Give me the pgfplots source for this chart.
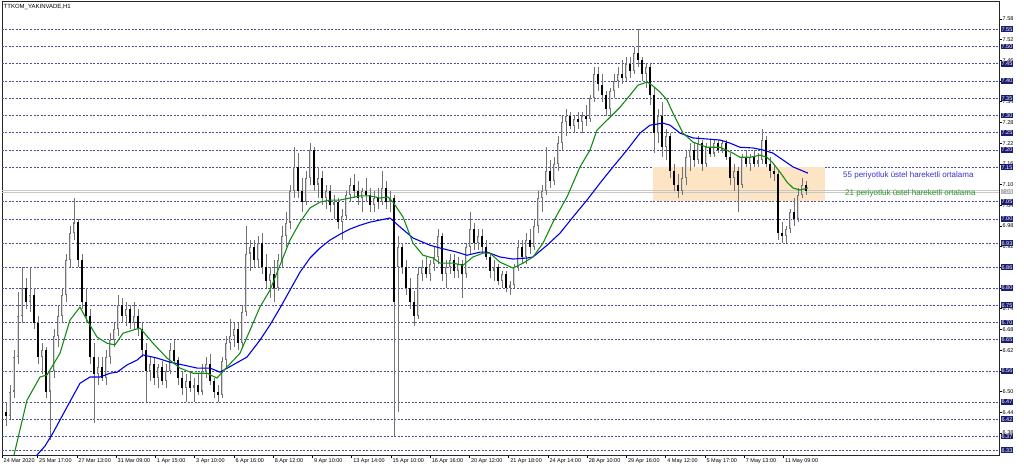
\documentclass[border=0pt]{standalone}
\usepackage{fontspec}
\setmainfont{Liberation Sans}
\usepackage{pgfplots}
\usepackage{pgfplotstable}
\pgfplotsset{compat=1.18}
\definecolor{gridc}{RGB}{80,80,150}
\definecolor{navyb}{RGB}{28,28,112}
\definecolor{emagreen}{RGB}{20,140,20}
\definecolor{emablue}{RGB}{0,0,230}
\definecolor{txtgreen}{RGB}{40,150,40}
\definecolor{txtblue}{RGB}{50,50,210}
\definecolor{peach}{RGB}{253,228,196}
\definecolor{wick}{RGB}{115,115,115}
\definecolor{bullfill}{RGB}{215,215,215}

\pgfplotstableread{
x o h l c
6 6.44 6.47 6.40 6.43
10 6.43 6.52 6.42 6.50
14 6.50 6.62 6.48 6.60
18 6.60 6.79 6.58 6.72
22 6.72 6.86 6.70 6.80
26 6.80 6.83 6.74 6.76
30 6.76 6.86 6.73 6.78
34 6.78 6.80 6.68 6.70
38 6.70 6.72 6.58 6.60
42 6.60 6.64 6.55 6.62
46 6.62 6.63 6.48 6.50
50 6.50 6.55 6.36 6.56
54 6.56 6.68 6.54 6.66
58 6.66 6.75 6.63 6.72
62 6.72 6.80 6.70 6.78
66 6.78 6.90 6.76 6.88
70 6.88 6.98 6.86 6.96
74 6.96 7.06 6.94 6.99
78 6.99 7.00 6.86 6.88
82 6.88 6.90 6.74 6.76
86 6.76 6.80 6.70 6.72
90 6.72 6.74 6.58 6.60
94 6.60 6.64 6.41 6.55
98 6.55 6.60 6.52 6.57
102 6.57 6.60 6.53 6.54
106 6.54 6.62 6.52 6.60
110 6.60 6.67 6.58 6.65
114 6.65 6.70 6.63 6.68
118 6.68 6.78 6.66 6.75
122 6.75 6.77 6.70 6.72
126 6.72 6.76 6.69 6.74
130 6.74 6.75 6.68 6.70
134 6.70 6.76 6.68 6.72
138 6.72 6.74 6.66 6.68
142 6.68 6.70 6.60 6.62
146 6.62 6.64 6.47 6.56
150 6.56 6.60 6.53 6.58
154 6.58 6.60 6.52 6.54
158 6.54 6.58 6.51 6.57
162 6.57 6.59 6.52 6.53
166 6.53 6.58 6.51 6.56
170 6.56 6.64 6.55 6.62
174 6.62 6.65 6.58 6.59
178 6.59 6.60 6.52 6.54
182 6.54 6.56 6.49 6.51
186 6.51 6.55 6.47 6.53
190 6.53 6.56 6.50 6.51
194 6.51 6.54 6.47 6.52
198 6.52 6.55 6.49 6.50
202 6.50 6.58 6.49 6.56
206 6.56 6.60 6.54 6.58
210 6.58 6.61 6.52 6.53
214 6.53 6.54 6.48 6.50
218 6.50 6.52 6.47 6.49
222 6.49 6.60 6.48 6.59
226 6.59 6.66 6.57 6.64
230 6.64 6.71 6.62 6.66
234 6.66 6.70 6.63 6.68
238 6.68 6.70 6.62 6.64
242 6.64 6.75 6.63 6.73
246 6.73 6.98 6.72 6.90
250 6.90 6.94 6.85 6.92
254 6.92 6.94 6.86 6.88
258 6.88 6.95 6.86 6.93
262 6.93 6.96 6.84 6.86
266 6.86 6.90 6.80 6.82
270 6.82 6.86 6.77 6.84
274 6.84 6.88 6.76 6.80
278 6.80 6.90 6.79 6.88
282 6.88 6.98 6.86 6.95
286 6.95 7.02 6.92 6.99
290 6.99 7.10 6.97 7.08
294 7.08 7.21 7.06 7.15
298 7.15 7.19 7.06 7.08
302 7.08 7.12 7.02 7.05
306 7.05 7.14 7.04 7.12
310 7.12 7.22 7.10 7.20
314 7.20 7.21 7.08 7.10
318 7.10 7.15 7.06 7.12
322 7.12 7.14 7.04 7.06
326 7.06 7.10 7.03 7.08
330 7.08 7.10 7.02 7.04
334 7.04 7.07 7.00 7.05
338 7.05 7.06 6.97 6.99
342 6.99 7.03 6.94 7.01
346 7.01 7.08 7.00 7.07
350 7.07 7.12 7.05 7.10
354 7.10 7.13 7.06 7.08
358 7.08 7.11 7.04 7.06
362 7.06 7.09 7.02 7.08
366 7.08 7.12 7.05 7.07
370 7.07 7.09 7.02 7.04
374 7.04 7.08 7.02 7.06
378 7.06 7.09 7.03 7.05
382 7.05 7.14 7.04 7.09
386 7.09 7.11 7.03 7.05
390 7.05 7.08 7.02 7.06
394 7.06 7.07 6.37 6.76
398 6.86 6.95 6.44 6.92
402 6.92 6.93 6.84 6.86
406 6.86 6.88 6.78 6.80
410 6.80 6.83 6.74 6.76
414 6.76 6.79 6.69 6.72
418 6.72 6.86 6.71 6.84
422 6.84 6.88 6.82 6.86
426 6.86 6.89 6.83 6.84
430 6.84 6.88 6.82 6.87
434 6.87 6.92 6.85 6.89
438 6.89 6.97 6.87 6.95
442 6.95 6.96 6.82 6.84
446 6.84 6.88 6.80 6.86
450 6.86 6.90 6.84 6.88
454 6.88 6.90 6.83 6.85
458 6.85 6.89 6.83 6.87
462 6.87 6.88 6.77 6.84
466 6.84 6.93 6.83 6.92
470 6.92 7.02 6.90 6.97
474 6.97 6.99 6.91 6.93
478 6.93 6.97 6.91 6.95
482 6.95 6.97 6.90 6.92
486 6.92 6.94 6.88 6.89
490 6.89 6.90 6.83 6.85
494 6.85 6.88 6.82 6.86
498 6.86 6.87 6.81 6.82
502 6.82 6.85 6.80 6.84
506 6.84 6.85 6.79 6.80
510 6.80 6.82 6.78 6.81
514 6.81 6.87 6.80 6.86
518 6.86 6.94 6.85 6.92
522 6.92 6.94 6.87 6.89
526 6.89 6.96 6.87 6.94
530 6.94 6.97 6.90 6.92
534 6.92 7.00 6.91 6.98
538 6.98 7.08 6.96 7.06
542 7.06 7.10 7.02 7.08
546 7.08 7.21 7.07 7.14
550 7.14 7.17 7.09 7.11
554 7.11 7.18 7.10 7.16
558 7.16 7.24 7.14 7.22
562 7.22 7.30 7.20 7.28
566 7.28 7.32 7.24 7.30
570 7.30 7.31 7.26 7.27
574 7.27 7.30 7.25 7.29
578 7.29 7.31 7.26 7.28
582 7.28 7.31 7.25 7.30
586 7.30 7.33 7.27 7.29
590 7.29 7.36 7.28 7.35
594 7.35 7.44 7.34 7.42
598 7.42 7.44 7.37 7.39
602 7.39 7.42 7.34 7.36
606 7.36 7.37 7.30 7.32
610 7.32 7.38 7.30 7.37
614 7.37 7.42 7.35 7.40
618 7.40 7.44 7.38 7.42
622 7.42 7.46 7.39 7.41
626 7.41 7.47 7.40 7.45
630 7.45 7.47 7.41 7.43
634 7.43 7.50 7.42 7.48
638 7.48 7.55 7.44 7.46
642 7.46 7.47 7.40 7.42
646 7.42 7.45 7.38 7.44
650 7.44 7.45 7.33 7.36
654 7.36 7.38 7.19 7.25
658 7.25 7.32 7.22 7.30
662 7.30 7.34 7.18 7.21
666 7.21 7.26 7.17 7.24
670 7.24 7.25 7.12 7.14
674 7.14 7.16 7.08 7.10
678 7.10 7.13 7.06 7.08
682 7.08 7.15 7.07 7.12
686 7.12 7.20 7.10 7.18
690 7.18 7.22 7.14 7.20
694 7.20 7.22 7.15 7.17
698 7.17 7.24 7.16 7.22
702 7.22 7.23 7.14 7.16
706 7.16 7.22 7.15 7.21
710 7.21 7.23 7.18 7.19
714 7.19 7.23 7.18 7.22
718 7.22 7.23 7.19 7.20
722 7.20 7.23 7.19 7.22
726 7.22 7.23 7.17 7.18
730 7.18 7.19 7.10 7.12
734 7.12 7.16 7.08 7.14
738 7.14 7.15 7.02 7.10
742 7.10 7.19 7.09 7.18
746 7.18 7.20 7.15 7.16
750 7.16 7.19 7.14 7.18
754 7.18 7.20 7.15 7.16
758 7.16 7.19 7.15 7.17
762 7.17 7.26 7.16 7.23
766 7.23 7.24 7.15 7.16
770 7.16 7.18 7.12 7.14
774 7.14 7.16 7.11 7.13
778 7.13 7.14 6.94 6.96
782 6.96 6.99 6.93 6.95
786 6.95 6.98 6.93 6.97
790 6.97 7.03 6.96 7.02
794 7.02 7.06 6.98 7.00
798 7.00 7.09 6.99 7.07
802 7.07 7.12 7.06 7.10
806 7.10 7.11 7.07 7.08
}\candles

\begin{document}
\begin{tikzpicture}
\useasboundingbox (0,0) rectangle (1024pt,468pt);
\begin{axis}[
  at={(2pt,13pt)}, anchor=south west,
  scale only axis, width=997pt, height=454pt,
  xmin=2, xmax=999, ymin=6.316, ymax=7.632,
  clip=false,
  axis line style={black!85, line width=0.8pt},
  tick align=outside,
  xtick pos=left, ytick pos=right, yticklabel pos=right,
  major tick length=3pt,
  tick style={black, line width=0.5pt},
  xtick={2,37.50,76.76,116.02,155.28,194.54,233.80,273.06,312.32,351.58,390.84,430.10,469.36,508.62,547.88,587.14,626.40,665.66,704.92,744.18,783.44},
  xticklabels={24 Mar 2020,25 Mar 17:00,27 Mar 13:00,31 Mar 09:00,1 Apr 15:00,3 Apr 10:00,6 Apr 16:00,8 Apr 12:00,9 Apr 10:00,13 Apr 14:00,15 Apr 10:00,16 Apr 16:00,20 Apr 12:00,21 Apr 18:00,24 Apr 14:00,28 Apr 10:00,29 Apr 16:00,4 May 12:00,5 May 17:00,7 May 13:00,11 May 09:00},
  xticklabel style={font=\fontsize{5.5}{6}\selectfont, anchor=north west, inner sep=0.5pt, xshift=1pt},
  ytick={6.38,6.44,6.50,6.56,6.62,6.68,6.74,6.80,6.86,6.92,6.98,7.04,7.10,7.16,7.22,7.28,7.34,7.40,7.46,7.52,7.58},
  scaled y ticks=false,
  yticklabel style={font=\fontsize{5.5}{6}\selectfont, anchor=west, inner sep=0.5pt,
    /pgf/number format/fixed, /pgf/number format/fixed zerofill,
    /pgf/number format/precision=2, /pgf/number format/assume math mode=true},
  extra y ticks={6.33,6.37,6.42,6.47,6.56,6.65,6.70,6.75,6.80,6.86,6.93,7.00,7.05,7.15,7.20,7.25,7.30,7.35,7.40,7.45,7.50,7.55},
  extra y tick style={major tick length=0pt, grid=major,
    major grid style={gridc, dash pattern=on 2pt off 1.5pt, line width=0.6pt},
    yticklabel style={fill=navyb, text=white, inner sep=0.9pt, xshift=1.5pt}},
  candle/.style={draw=none, mark=none, forget plot, error bars/.cd, y dir=both, y explicit, error mark=none},
]
% zone
\addplot[fill=peach, draw=none, forget plot] coordinates {(653,7.053) (825,7.053) (825,7.151) (653,7.151)} -- cycle;
% bid/ask lines
\addplot[black!22, line width=0.8pt, forget plot] coordinates {(2,7.084) (999,7.084)};
\addplot[black!22, line width=0.8pt, forget plot] coordinates {(2,7.076) (999,7.076)};
% wicks
\addplot[candle, error bar style={draw=wick, line width=0.8pt, solid, line cap=butt}]
  table[x=x, y expr={(\thisrow{h}+\thisrow{l})/2}, y error expr={(\thisrow{h}-\thisrow{l})/2}] {\candles};
% bull bodies
\addplot[restrict expr to domain={\thisrow{c}-\thisrow{o}}{0.001:10}, candle,
  error bar style={draw=wick, line width=2.2pt, solid, line cap=butt}]
  table[x=x, y expr={(\thisrow{o}+\thisrow{c})/2}, y error expr={(\thisrow{c}-\thisrow{o})/2}] {\candles};
\addplot[restrict expr to domain={\thisrow{c}-\thisrow{o}}{0.0105:10}, candle,
  error bar style={draw=bullfill, line width=1.0pt, solid, line cap=butt}]
  table[x=x, y expr={(\thisrow{o}+\thisrow{c})/2}, y error expr={(\thisrow{c}-\thisrow{o}-0.006)/2}] {\candles};
% bear bodies
\addplot[restrict expr to domain={\thisrow{o}-\thisrow{c}}{0.001:10}, candle,
  error bar style={draw=black, line width=2.2pt, solid, line cap=butt}]
  table[x=x, y expr={(\thisrow{o}+\thisrow{c})/2}, y error expr={(\thisrow{o}-\thisrow{c})/2}] {\candles};
% EMA 55
\addplot[emablue, line width=1.1pt, line join=round, mark=none] coordinates {
(37,6.316)(45,6.342)(53,6.380)(67,6.455)(80,6.524)(90,6.542)(100,6.542)(110,6.553)(117,6.556)(127,6.577)(137,6.591)(143,6.606)(157,6.597)(170,6.585)(183,6.577)(197,6.568)(210,6.568)(220,6.556)(233,6.577)(247,6.600)(260,6.649)(270,6.693)(280,6.742)(290,6.794)(300,6.846)(310,6.887)(320,6.916)(330,6.939)(340,6.956)(350,6.971)(360,6.982)(370,6.991)(380,6.997)(390,7.003)(400,6.977)(413,6.945)(430,6.924)(440,6.916)(457,6.904)(467,6.895)(480,6.904)(487,6.904)(500,6.890)(513,6.884)(527,6.887)(533,6.890)(547,6.924)(560,6.959)(573,7.006)(587,7.055)(600,7.104)(613,7.151)(627,7.200)(640,7.249)(650,7.272)(663,7.278)(670,7.272)(680,7.249)(693,7.235)(707,7.232)(720,7.229)(730,7.220)(740,7.208)(753,7.206)(763,7.200)(773,7.191)(783,7.171)(793,7.151)(803,7.139)(808,7.133)};
% EMA 21
\addplot[emagreen, line width=1.1pt, line join=round, mark=none] coordinates {
(14,6.316)(18,6.365)(27,6.475)(40,6.542)(47,6.548)(60,6.611)(70,6.707)(80,6.745)(87,6.707)(97,6.658)(107,6.640)(115,6.635)(123,6.669)(133,6.678)(140,6.684)(153,6.640)(167,6.597)(180,6.568)(193,6.553)(207,6.553)(217,6.539)(227,6.571)(240,6.611)(250,6.678)(260,6.745)(270,6.794)(280,6.866)(290,6.939)(300,6.991)(310,7.032)(320,7.049)(330,7.055)(340,7.055)(350,7.061)(360,7.067)(370,7.067)(380,7.061)(388,7.064)(393,7.049)(403,7.006)(413,6.930)(423,6.895)(433,6.887)(440,6.872)(453,6.872)(463,6.866)(473,6.890)(483,6.901)(490,6.901)(500,6.875)(513,6.858)(523,6.872)(533,6.890)(543,6.930)(553,6.991)(567,7.064)(580,7.151)(590,7.200)(597,7.258)(610,7.295)(620,7.324)(630,7.359)(638,7.388)(647,7.397)(652,7.388)(660,7.368)(667,7.345)(673,7.307)(683,7.249)(693,7.223)(707,7.208)(720,7.208)(733,7.191)(740,7.179)(750,7.179)(760,7.185)(767,7.179)(773,7.162)(780,7.136)(787,7.107)(793,7.090)(800,7.084)(808,7.090)};
% texts
\node[anchor=north west, inner sep=0pt, font=\fontsize{6}{7}\selectfont, xshift=1.5pt, yshift=-3pt] at (rel axis cs:0,1) {TTKOM\_YAKINVADE,H1};
\node[anchor=west, inner sep=0pt, text=txtblue, font=\fontsize{8}{9}\selectfont] at (axis cs:843,7.125) {55 periyotluk üstel hareketli ortalama};
\node[anchor=west, inner sep=0pt, text=txtgreen, font=\fontsize{8}{9}\selectfont] at (axis cs:845,7.075) {21 periyotluk üstel hareketli ortalama};
\node[anchor=west, fill=black!30, text=white, inner sep=0.9pt, xshift=1.5pt, font=\fontsize{5.5}{6}\selectfont] at (axis cs:999,7.08) {7.08};
\end{axis}
\end{tikzpicture}
\end{document}
